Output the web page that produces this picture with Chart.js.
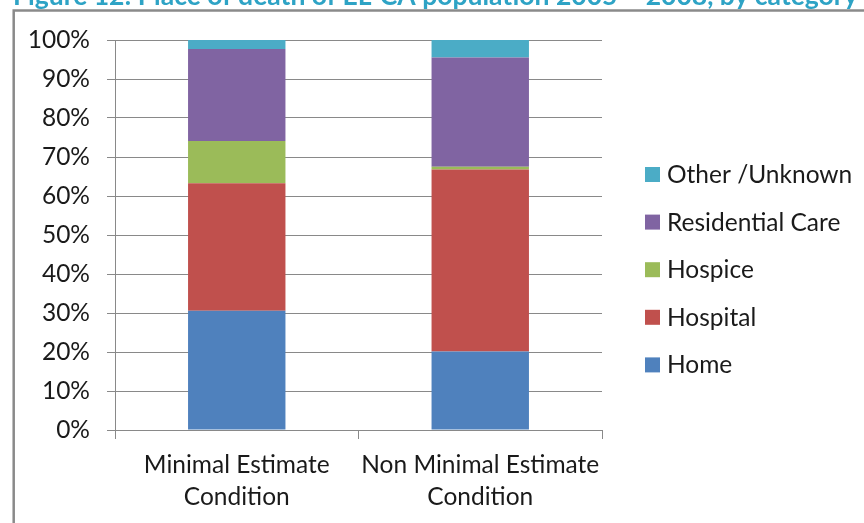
<!DOCTYPE html>
<html>
<head>
<meta charset="utf-8">
<script src="https://cdn.jsdelivr.net/npm/chart.js@4"></script>
<style>
  html, body { margin: 0; padding: 0; background: #fff; overflow: hidden; }
  canvas { display: block; }
</style>
</head>
<body>
<canvas id="c" width="864" height="523"></canvas>
<script>
// Place of death, share (%) by category
const categories = [['Minimal Estimate', 'Condition'], ['Non Minimal Estimate', 'Condition']];
const seriesNames = ['Home', 'Hospital', 'Hospice', 'Residential Care', 'Other /Unknown'];
const home = [30.6, 20.1];
const hospital = [32.7, 46.7];
const hospice = [10.8, 0.7];
const residentialCare = [23.6, 28.0];
const otherUnknown = [2.3, 4.5];
const yTickValues = [0, 10, 20, 30, 40, 50, 60, 70, 80, 90, 100];
const yTickLabels = ['0%', '10%', '20%', '30%', '40%', '50%', '60%', '70%', '80%', '90%', '100%'];
const titleText = 'Figure 12: Place of death of EL-CA population 2005 \u2013 2008, by category';

const seriesColors = ['#4f81bd', '#c0504d', '#9bbb59', '#8064a2', '#4bacc6'];
const seriesValues = [home, hospital, hospice, residentialCare, otherUnknown];

const FONT_FAMILY = 'Lato, "Open Sans", sans-serif';
const FONT_SIZE = 24.5;
const TEXT_COLOR = '#1a1a1a';
const GRID_COLOR = '#898989';

// Page heading and surrounding frame
const pageDecor = {
  id: 'pageDecor',
  beforeDraw(chart) {
    const ctx = chart.ctx;
    ctx.save();
    ctx.fillStyle = '#fff';
    ctx.fillRect(0, 0, chart.width, chart.height);
    ctx.font = 'bold 26.5px ' + FONT_FAMILY;
    ctx.fillStyle = '#2ea3c5';
    ctx.textBaseline = 'alphabetic';
    ctx.fillText(titleText, 13, 5);
    ctx.strokeStyle = '#8a8a8a';
    ctx.lineWidth = 2.5;
    ctx.beginPath();
    ctx.moveTo(13.7, chart.height + 5);
    ctx.lineTo(13.7, 10.5);
    ctx.lineTo(chart.width + 5, 10.5);
    ctx.stroke();
    ctx.restore();
  }
};

// Legend on the right, listed top-down in reverse stacking order
const sideLegend = {
  id: 'sideLegend',
  afterDraw(chart) {
    const ctx = chart.ctx;
    const items = chart.data.datasets.slice().reverse();
    ctx.save();
    ctx.font = FONT_SIZE + 'px ' + FONT_FAMILY;
    ctx.textBaseline = 'alphabetic';
    items.forEach((d, i) => {
      const base = 183 + i * 47.6;
      ctx.fillStyle = d.backgroundColor;
      ctx.fillRect(645, base - 16, 15, 15);
      ctx.fillStyle = TEXT_COLOR;
      ctx.fillText(d.label, 667, base);
    });
    ctx.restore();
  }
};

const datasets = seriesNames.map((name, i) => ({
  label: name,
  data: seriesValues[i],
  backgroundColor: seriesColors[i],
  borderWidth: 0,
  categoryPercentage: 1.0,
  barPercentage: 0.4
}));

new Chart(document.getElementById('c'), {
  type: 'bar',
  data: { labels: categories, datasets },
  plugins: [pageDecor, sideLegend],
  options: {
    responsive: false,
    animation: false,
    devicePixelRatio: 1,
    layout: { padding: { top: 40, right: 262, bottom: 0, left: 0 } },
    plugins: {
      legend: { display: false },
      tooltip: { enabled: false },
      title: { display: false }
    },
    scales: {
      x: {
        stacked: true,
        grid: { offset: true, drawOnChartArea: false, drawTicks: true, tickLength: 9, color: GRID_COLOR, lineWidth: 1 },
        border: { color: GRID_COLOR, width: 1 },
        ticks: {
          color: TEXT_COLOR,
          font: { family: FONT_FAMILY, size: FONT_SIZE, lineHeight: 32 / FONT_SIZE },
          padding: 10,
          maxRotation: 0,
          autoSkip: false
        },
        afterFit(scale) { scale.height = 93; }
      },
      y: {
        stacked: true,
        min: 0,
        max: 100,
        afterBuildTicks(scale) { scale.ticks = yTickValues.map(v => ({ value: v })); },
        ticks: {
          color: TEXT_COLOR,
          font: { family: FONT_FAMILY, size: FONT_SIZE },
          padding: 17,
          callback: (v) => yTickLabels[yTickValues.indexOf(v)]
        },
        grid: { color: GRID_COLOR, lineWidth: 1, tickLength: 8, drawTicks: true },
        border: { color: GRID_COLOR, width: 1 },
        afterFit(scale) { scale.width = 115; }
      }
    }
  }
});
</script>
</body>
</html>
